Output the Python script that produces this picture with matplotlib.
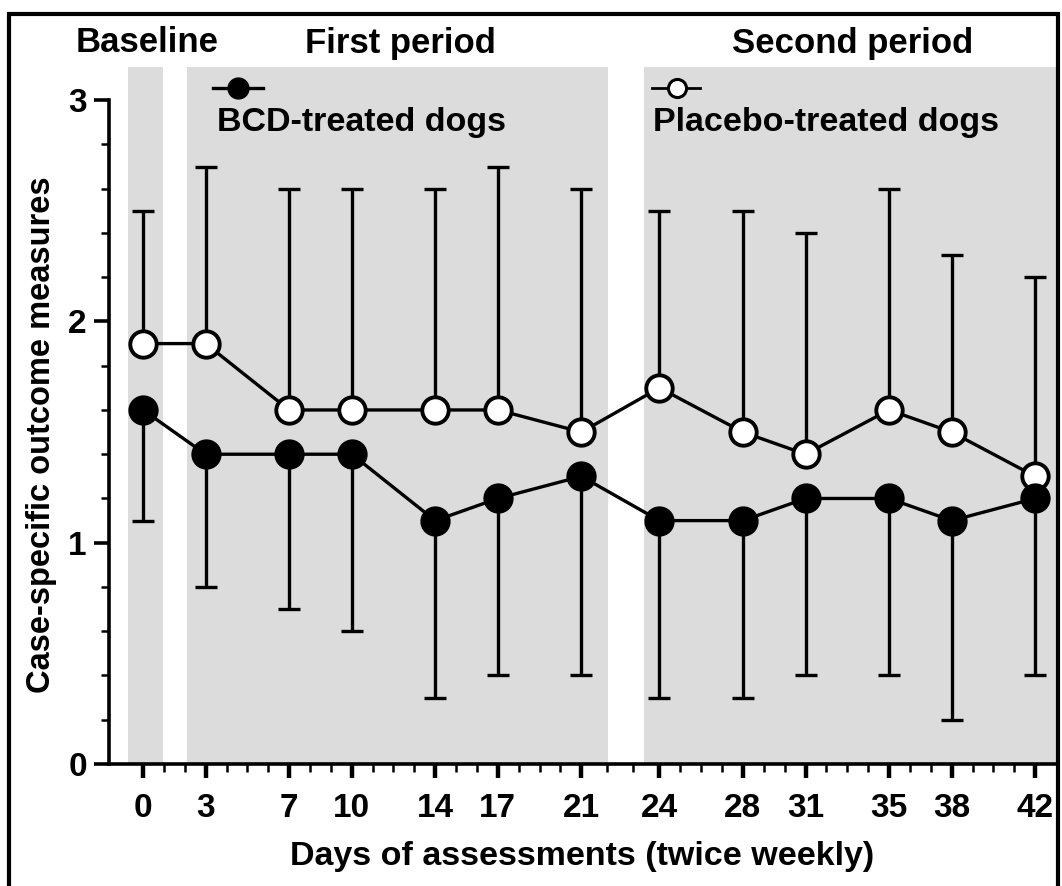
import matplotlib

matplotlib.use("Agg")

import matplotlib.pyplot as plt
import numpy as np
from matplotlib.lines import Line2D
from matplotlib.patches import Rectangle

plt.rcParams["font.family"] = ["Liberation Sans", "DejaVu Sans"]
plt.rcParams["font.weight"] = "bold"

# ---- data ---------------------------------------------------------------
days = [0, 3, 7, 10, 14, 17, 21, 24, 28, 31, 35, 38, 42]

bcd_mean = [1.6, 1.4, 1.4, 1.4, 1.1, 1.2, 1.3, 1.1, 1.1, 1.2, 1.2, 1.1, 1.2]
bcd_low = [1.1, 0.8, 0.7, 0.6, 0.3, 0.4, 0.4, 0.3, 0.3, 0.4, 0.4, 0.2, 0.4]

placebo_mean = [1.9, 1.9, 1.6, 1.6, 1.6, 1.6, 1.5, 1.7, 1.5, 1.4, 1.6, 1.5, 1.3]
placebo_high = [2.5, 2.7, 2.6, 2.6, 2.6, 2.7, 2.6, 2.5, 2.5, 2.4, 2.6, 2.3, 2.2]

# shaded study periods (day ranges)
period_names = ["Baseline", "First period", "Second period"]
period_start = [-0.72, 2.1, 23.4]
period_end = [0.96, 22.04, 43.2]

# the 21 -> 24 gap is drawn a bit wider than the other days
STRETCH = 0.74


def fwd(x):
    x = np.asarray(x, dtype=float)
    return x + STRETCH * np.clip((x - 21) / 3, 0, 1)


def inv(y):
    y = np.asarray(y, dtype=float)
    mid = 21 + (y - 21) * 3 / (3 + STRETCH)
    return np.where(y <= 21, y, np.where(y >= 24 + STRETCH, y - STRETCH, mid))


W, H = 1062, 886
fig = plt.figure(figsize=(W / 100, H / 100), dpi=100, facecolor="white")


def fx(px):
    return px / W


def fy(py):
    return 1 - py / H


ax = fig.add_axes([fx(109), fy(764), fx(1056) - fx(109), fy(67) - fy(764)])
ax.set_xscale("function", functions=(fwd, inv))
ax.set_xlim(-1.63, 43.0)
ax.set_ylim(0, 3.15)

GRAY = "#dcdcdc"
for s, e in zip(period_start, period_end):
    ax.axvspan(s, e, color=GRAY, lw=0, zorder=0)

# BCD: lower error bars only; placebo: upper error bars only
bcd_err = [np.array(bcd_mean) - np.array(bcd_low), np.zeros(len(days))]
pl_err = [np.zeros(len(days)), np.array(placebo_high) - np.array(placebo_mean)]

ax.errorbar(days, placebo_mean, yerr=pl_err, fmt="none", ecolor="black",
            elinewidth=2.4, capsize=8, capthick=2.4, zorder=2)
ax.errorbar(days, bcd_mean, yerr=bcd_err, fmt="none", ecolor="black",
            elinewidth=2.4, capsize=8, capthick=2.4, zorder=2)
ax.plot(days, placebo_mean, "-o", color="black", lw=2.4, ms=19,
        mfc="white", mec="black", mew=2.8, zorder=3)
ax.plot(days, bcd_mean, "-o", color="black", lw=2.4, ms=19,
        mfc="black", mec="black", mew=2.8, zorder=4)

# ---- axes styling -------------------------------------------------------
for side in ("top", "right"):
    ax.spines[side].set_visible(False)
ax.spines["left"].set_bounds(0, 3)
ax.spines["left"].set_linewidth(2.6)
ax.spines["bottom"].set_linewidth(2.6)

ax.set_xticks(days)
ax.set_xticks(range(0, 43), minor=True)
ax.set_xticklabels([str(d) for d in days])
ax.set_yticks([0, 1, 2, 3])
ax.set_yticks(np.arange(0, 3.01, 0.2), minor=True)

ax.tick_params(axis="x", which="major", length=10, width=3.2, labelsize=24, pad=11)
ax.tick_params(axis="x", which="minor", length=5.5, width=1.8)
ax.tick_params(axis="y", which="major", length=11, width=2.6, labelsize=24, pad=5)
ax.tick_params(axis="y", which="minor", length=6, width=1.8)
for lab in ax.get_xticklabels() + ax.get_yticklabels():
    lab.set_fontweight("bold")

ax.set_xlabel("Days of assessments (twice weekly)", fontsize=24.5,
              fontweight="bold", labelpad=12)
ax.set_ylabel("Case-specific outcome measures", fontsize=23.5,
              fontweight="bold")
ax.yaxis.set_label_coords(-0.055, 0.473)

# ---- period headers -----------------------------------------------------
header_x = [147, 400, 853]
for name, px in zip(period_names, header_x):
    fig.text(fx(px), fy(43), name, ha="center", va="center",
             fontsize=25, fontweight="bold")

# ---- legend (marker above label) ---------------------------------------
fig.add_artist(Line2D([fx(213), fx(263)], [fy(88), fy(88)], color="black",
                      lw=2.4, zorder=5))
fig.add_artist(Line2D([fx(238)], [fy(88)], color="black", marker="o",
                      ms=15, mfc="black", mec="black", zorder=6))
fig.text(fx(217), fy(123), "BCD-treated dogs", ha="left", va="center",
         fontsize=24.5, fontweight="bold")

fig.add_artist(Line2D([fx(652), fx(700)], [fy(88), fy(88)], color="black",
                      lw=2.0, zorder=5))
fig.add_artist(Line2D([fx(677)], [fy(88)], color="black", marker="o",
                      ms=13, mfc="white", mec="black", mew=2.2, zorder=6))
fig.text(fx(653), fy(122), "Placebo-treated dogs", ha="left", va="center",
         fontsize=24.5, fontweight="bold")

# outer frame
fig.add_artist(Rectangle((fx(9), -0.05), fx(1058) - fx(9), fy(14) + 0.05,
                         transform=fig.transFigure, fill=False,
                         edgecolor="black", lw=3, zorder=10))

fig.savefig("out.png", dpi=100)
